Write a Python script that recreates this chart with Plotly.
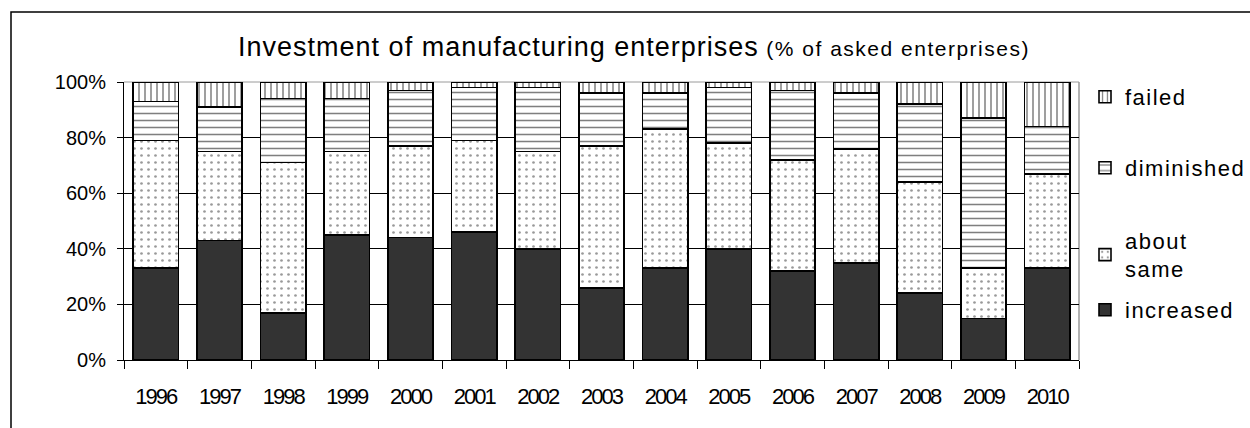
import plotly.graph_objects as go

years = ["1996", "1997", "1998", "1999", "2000", "2001", "2002", "2003",
         "2004", "2005", "2006", "2007", "2008", "2009", "2010"]
increased = [33, 43, 17, 45, 44, 46, 40, 26, 33, 40, 32, 35, 24, 15, 33]
about_same = [46, 32, 54, 30, 33, 33, 35, 51, 50, 38, 40, 41, 40, 18, 34]
diminished = [14, 16, 23, 19, 20, 19, 23, 19, 13, 20, 25, 20, 28, 54, 17]
failed = [7, 9, 6, 6, 3, 2, 2, 4, 4, 2, 3, 4, 8, 13, 16]
y_tick_values = [0, 20, 40, 60, 80, 100]
y_tick_labels = ["0%", "20%", "40%", "60%", "80%", "100%"]

FONT = "Liberation Sans, Arial, sans-serif"

W, H = 1250, 428
L, R, T, B = 124, 1079, 82, 360

fig = go.Figure()
line = dict(color="black", width=1.6)

def spaced(txt, sp):
    return '<span style="letter-spacing:%spx">%s</span>' % (sp, txt)

series = [
    ("increased", increased, dict(color="#333333", line=line), "legend4"),
    ("about<br>same", about_same, dict(color="white", line=line,
        pattern=dict(shape=".", fgcolor="#333333", bgcolor="white", size=7, solidity=0.12)), "legend3"),
    ("diminished", diminished, dict(color="white", line=line,
        pattern=dict(shape="-", fgcolor="black", bgcolor="white", size=7, solidity=0.22)), "legend2"),
    ("failed", failed, dict(color="white", line=line,
        pattern=dict(shape="|", fgcolor="black", bgcolor="white", size=6, solidity=0.25)), "legend"),
]
for name, vals, marker, lg in series:
    label = "<br>".join(spaced(part, 1.5) for part in name.split("<br>"))
    fig.add_trace(go.Bar(x=years, y=vals, name=label, marker=marker, legend=lg,
                         width=0.71, hovertemplate="%{x}: %{y}%<extra></extra>"))

def py(p):
    return (B - p) / (B - T)

def px(p):
    return (p - L) / (R - L)

leg_x = px(1085)
leg_font = dict(family=FONT, size=22, color="black")
legends = {}
for key, ycen in [("legend", 97), ("legend2", 168), ("legend3", 255), ("legend4", 310)]:
    legends[key] = dict(x=leg_x, xanchor="left", y=py(ycen), yanchor="middle",
                        font=leg_font, bgcolor="rgba(0,0,0,0)", borderwidth=0,
                        itemclick=False, itemdoubleclick=False)

title_text = (spaced("Investment of manufacturing enterprises", 1) + " "
              + '<span style="font-size:21px;letter-spacing:1.5px">(% of asked enterprises)</span>')

fig.update_layout(
    width=W, height=H, autosize=False,
    margin=dict(l=L, r=W - R, t=T, b=H - B, pad=0, autoexpand=False),
    paper_bgcolor="white", plot_bgcolor="white",
    barmode="stack", bargap=0.29,
    font=dict(family=FONT, size=20, color="black"),
    title=dict(text=title_text, x=634 / W, xanchor="center", xref="container",
               y=1 - 47 / H, yanchor="middle", yref="container",
               font=dict(family=FONT, size=27, color="black")),
    showlegend=True,
    **legends,
    xaxis=dict(type="category", showline=True, linecolor="black", linewidth=1,
               ticks="outside", ticklen=8, tickcolor="black", tickwidth=1,
               tickson="boundaries", showgrid=False,
               tickvals=years, ticktext=[spaced(y, -2) for y in years],
               tickfont=dict(family=FONT, size=22, color="black"),
               ticklabelstandoff=17, fixedrange=True, automargin=False),
    yaxis=dict(range=[0, 100], tickmode="array", tickvals=y_tick_values, ticktext=y_tick_labels,
               showline=True, linecolor="black", linewidth=1,
               ticks="outside", ticklen=6, tickcolor="black", tickwidth=1,
               showgrid=True, gridcolor="black", gridwidth=1, zeroline=False,
               tickfont=dict(family=FONT, size=20, color="black"),
               ticklabelstandoff=7, fixedrange=True, automargin=False),
    shapes=[
        # outer chart frame
        dict(type="rect", xref="paper", yref="paper",
             x0=px(11), x1=px(1300), y0=py(480), y1=py(12),
             line=dict(color="black", width=1.5), fillcolor="rgba(0,0,0,0)", layer="above"),
        # plot area border (gray) top and right
        dict(type="line", xref="paper", yref="paper", x0=0, x1=1, y0=1, y1=1,
             line=dict(color="#9a9a9a", width=1), layer="between"),
        dict(type="line", xref="paper", yref="paper", x0=1, x1=1, y0=0, y1=1,
             line=dict(color="#9a9a9a", width=1.5), layer="between"),
    ],
)

fig.write_html("out.html", config={"displayModeBar": False},
               post_script="document.body.style.margin='0px';")
